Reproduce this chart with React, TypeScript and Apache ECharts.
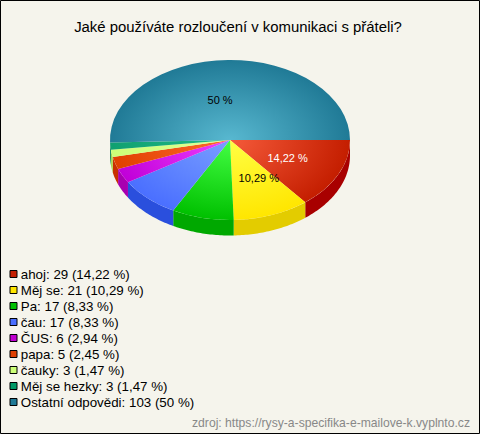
import React, { useEffect, useRef } from "react";
import * as echarts from "echarts";

const TITLE = "Jaké používáte rozloučení v komunikaci s přáteli?";
const SOURCE = "zdroj: https://rysy-a-specifika-e-mailove-k.vyplnto.cz";
const categories = ["ahoj", "Měj se", "Pa", "čau", "ČUS", "papa", "čauky", "Měj se hezky", "Ostatní odpovědi"];
const counts = [29, 21, 17, 17, 6, 5, 3, 3, 103];
const percentTexts = ["14,22 %", "10,29 %", "8,33 %", "8,33 %", "2,94 %", "2,45 %", "1,47 %", "1,47 %", "50 %"];
const swatchColors = ["#c41e00", "#ffe600", "#00c000", "#4a6fff", "#c000d0", "#e04000", "#ccff77", "#009966", "#207a96"];
const innerColors = ["#f55a3a", "#ffff44", "#44ff44", "#7a9fff", "#f040ff", "#ff6a2a", "#e0ff99", "#22bb88", "#58b8d0"];
const outerColors = ["#c41e00", "#ffe600", "#00c000", "#4a6fff", "#c000d8", "#e04000", "#ccff77", "#0fa070", "#207a96"];
const sideColors = ["#a80000", "#e3cc00", "#00a800", "#2a4fdd", "#a800b0", "#c83000", "#a8d850", "#008050", "#156075"];
const labelNudges: Record<number, [number, number, string]> = {
  0: [3.5, 1, "#ffffff"],
  1: [8, 0, "#000000"],
  8: [-9, 0, "#000000"],
};

const CX = 230, CY = 140, RX = 120, RY = 80, DEPTH = 15.5;
const sum = counts.reduce((a, b) => a + b, 0);
const FONT = '"Liberation Sans", Arial, sans-serif';

function makeSeries() {
  let acc = 0;
  return categories.map((name, i) => {
    const start = (acc / sum) * Math.PI * 2;
    acc += counts[i];
    const end = i === categories.length - 1 ? Math.PI * 2 : (acc / sum) * Math.PI * 2;
    return {
      type: "custom",
      name: `${name}: ${counts[i]} (${percentTexts[i]})`,
      coordinateSystem: "none",
      silent: true,
      itemStyle: { color: swatchColors[i] },
      data: [[start, end]],
      renderItem: (_p: any, api: any) => {
        const a = api.value(0) as number;
        const b = api.value(1) as number;
        const children: any[] = [];
        const wa = Math.min(a, Math.PI);
        const wb = Math.min(b, Math.PI);
        if (wb > wa) {
          const top: number[][] = [];
          const bottom: number[][] = [];
          const steps = Math.max(2, Math.ceil((wb - wa) * 60));
          for (let k = 0; k <= steps; k++) {
            const t = wa + ((wb - wa) * k) / steps;
            const x = CX + RX * Math.cos(t);
            const y = CY + RY * Math.sin(t);
            top.push([x, y]);
            bottom.unshift([x, y + DEPTH]);
          }
          children.push({
            type: "polygon",
            shape: { points: top.concat(bottom) },
            style: { fill: sideColors[i] },
          });
        }
        children.push({
          type: "sector",
          x: CX,
          y: CY,
          scaleY: RY / RX,
          shape: { cx: 0, cy: 0, r: RX, r0: 0, startAngle: a, endAngle: b, clockwise: true },
          style: {
            fill: new echarts.graphic.RadialGradient(0, 0, RX, [
              { offset: 0, color: innerColors[i] },
              { offset: 1, color: outerColors[i] },
            ], true),
          },
        });
        const nudge = labelNudges[i];
        if (nudge) {
          const m = (a + b) / 2;
          children.push({
            type: "text",
            z2: 10,
            style: {
              text: percentTexts[i],
              x: CX + RX * 0.5 * Math.cos(m) + nudge[0],
              y: CY + RY * 0.5 * Math.sin(m) + nudge[1],
              fill: nudge[2],
              font: `11px ${FONT}`,
              align: "center",
              verticalAlign: "middle",
            },
          });
        }
        return { type: "group", children };
      },
    };
  });
}

export default function App() {
  const ref = useRef<HTMLDivElement>(null);
  useEffect(() => {
    const chart = echarts.init(ref.current!, undefined, { renderer: "svg" });
    const series = makeSeries();
    chart.setOption({
      animation: false,
      backgroundColor: "#f5f4ec",
      title: [
        {
          text: TITLE,
          left: 233,
          top: 14,
          textAlign: "center",
          textStyle: { fontFamily: FONT, fontSize: 14.9, fontWeight: "normal", color: "#000" },
        },
        {
          text: SOURCE,
          right: 5,
          top: 411.5,
          textStyle: { fontFamily: FONT, fontSize: 12.15, fontWeight: "normal", color: "#888" },
        },
      ],
      legend: {
        orient: "vertical",
        left: 9.5,
        top: 266.5,
        padding: 0,
        itemWidth: 7,
        itemHeight: 7,
        itemGap: 1,
        icon: "rect",
        selectedMode: false,
        data: series.map((s) => s.name),
        itemStyle: { borderColor: "#000", borderWidth: 1 },
        textStyle: { fontFamily: FONT, fontSize: 13.33, color: "#000", padding: [0, 0, 0, -1.2], lineHeight: 15 },
      },
      graphic: [
        {
          type: "rect",
          silent: true,
          z: 100,
          shape: { x: 0.5, y: 0.5, width: 479, height: 433 },
          style: { fill: "none", stroke: "#000", lineWidth: 1 },
        },
      ],
      series,
    });
    return () => chart.dispose();
  }, []);
  return <div ref={ref} style={{ position: "absolute", left: 0, top: 0, width: 480, height: 434 }} />;
}
